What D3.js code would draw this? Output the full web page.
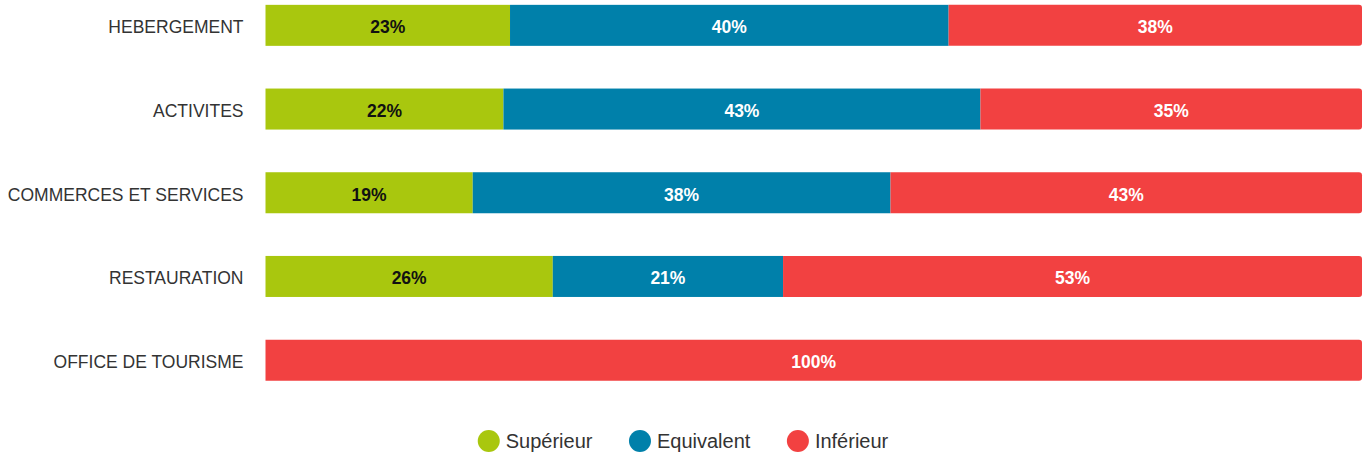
<!DOCTYPE html>
<html>
<head>
<meta charset="utf-8">
<script src="https://cdn.jsdelivr.net/npm/d3@7"></script>
<style>
  html, body { margin: 0; padding: 0; background: #fff; }
  svg { display: block; }
  text { font-family: "Liberation Sans", Arial, sans-serif; }
</style>
</head>
<body>
<svg id="chart" width="1363" height="455"></svg>
<script>
// ---- data ----
const categories = ["HEBERGEMENT", "ACTIVITES", "COMMERCES ET SERVICES", "RESTAURATION", "OFFICE DE TOURISME"];
const seriesNames = ["Supérieur", "Equivalent", "Inférieur"];
const superieur  = [22.3, 21.7, 18.9, 26.2, 0];
const equivalent = [40.0, 43.5, 38.1, 21.0, 0];
const inferieur  = [37.7, 34.8, 43.0, 52.8, 100];
const superieurLabels  = ["23%", "22%", "19%", "26%", ""];
const equivalentLabels = ["40%", "43%", "38%", "21%", ""];
const inferieurLabels  = ["38%", "35%", "43%", "53%", "100%"];

const colors = ["#a9c70e", "#0080aa", "#f24141"];
const labelColors = ["#111111", "#ffffff", "#ffffff"];

const svg = d3.select("#chart");

const x = d3.scaleLinear().domain([0, 100]).range([265.5, 1362]);
const y = d3.scaleBand().domain(categories).range([-16.5, 402]).paddingInner(0.51).paddingOuter(0.255);

const rows = categories.map((c, i) => ({
  cat: c,
  vals: [superieur[i], equivalent[i], inferieur[i]],
  labels: [superieurLabels[i], equivalentLabels[i], inferieurLabels[i]]
}));

const stack = d3.stack().keys([0, 1, 2]).value((d, k) => d.vals[k]);
const stacked = stack(rows);

// bars
const bw = y.bandwidth();
const r = 3;
stacked.forEach((layer, k) => {
  const g = svg.append("g");
  layer.forEach((seg, i) => {
    const x0 = x(seg[0]), x1 = x(seg[1]);
    const w = x1 - x0;
    if (w <= 0) return;
    const yy = y(rows[i].cat);
    const isEnd = (seg[1] >= 100 - 1e-9);
    if (isEnd) {
      const p = d3.path();
      p.moveTo(x0, yy);
      p.lineTo(x1 - r, yy);
      p.arcTo(x1, yy, x1, yy + r, r);
      p.lineTo(x1, yy + bw - r);
      p.arcTo(x1, yy + bw, x1 - r, yy + bw, r);
      p.lineTo(x0, yy + bw);
      p.closePath();
      g.append("path").attr("d", p.toString()).attr("fill", colors[k]);
    } else {
      g.append("rect").attr("x", x0).attr("y", yy).attr("width", w).attr("height", bw).attr("fill", colors[k]);
    }
  });
});

// data labels
stacked.forEach((layer, k) => {
  layer.forEach((seg, i) => {
    const lab = rows[i].labels[k];
    if (!lab || seg[1] - seg[0] <= 0) return;
    svg.append("text")
      .attr("x", (x(seg[0]) + x(seg[1])) / 2)
      .attr("y", y(rows[i].cat) + bw / 2 + 1.5)
      .attr("dy", "0.36em")
      .attr("text-anchor", "middle")
      .attr("font-size", "17.5px")
      .attr("font-weight", "bold")
      .attr("fill", labelColors[k])
      .text(lab);
  });
});

// category axis
const yAxis = d3.axisLeft(y).tickSize(0).tickPadding(22);
const ag = svg.append("g").attr("transform", `translate(${x(0)},1.5)`).call(yAxis);
ag.select(".domain").remove();
ag.selectAll("text")
  .attr("font-size", "17.5px")
  .attr("font-family", "'Liberation Sans', Arial, sans-serif")
  .attr("fill", "#333333")
  .attr("dy", "0.36em");

// legend
const legend = svg.append("g");
let cx = 0;
const spacing = 36.5;
seriesNames.forEach((name, k) => {
  const it = legend.append("g");
  it.append("circle").attr("cx", 11).attr("cy", 0).attr("r", 11).attr("fill", colors[k]);
  const t = it.append("text").attr("x", 28).attr("y", 0).attr("dy", "0.36em")
    .attr("font-size", "20px").attr("fill", "#333333").text(name);
  const tw = t.node().getComputedTextLength();
  it.attr("transform", `translate(${cx},441)`);
  cx += 28 + tw + spacing;
});
const totalW = cx - spacing;
legend.attr("transform", `translate(${683 - totalW / 2},0)`);
</script>
</body>
</html>
